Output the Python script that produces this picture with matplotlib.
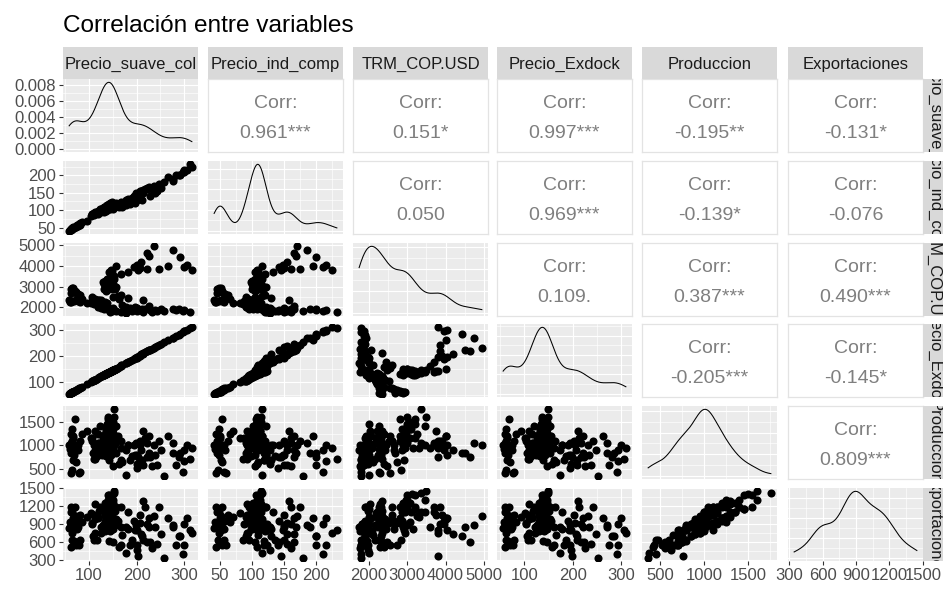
import numpy as np
import matplotlib
matplotlib.use('Agg')
import matplotlib.pyplot as plt

plt.rcParams['font.family'] = ['Liberation Sans', 'DejaVu Sans']

# Variables (bimonthly readings, 2000-2023)
variables = ['Precio_suave_col', 'Precio_ind_comp', 'TRM_COP.USD',
             'Precio_Exdock', 'Produccion', 'Exportaciones']

precio_suave_col = [
    135, 125, 118, 110, 104, 96,
    80, 76, 72, 68, 64, 62,
    62, 60, 58, 62, 66, 64,
    66, 64, 62, 64, 66, 70,
    72, 76, 74, 78, 80, 84,
    112, 124, 120, 108, 106, 112,
    116, 110, 106, 112, 118, 122,
    128, 130, 132, 134, 136, 138,
    142, 148, 144, 146, 138, 134,
    150, 162, 170, 178, 185, 196,
    200, 212, 228, 242, 238, 252,
    282, 300, 312, 298, 288, 276,
    258, 232, 214, 200, 190, 178,
    166, 156, 150, 144, 138, 132,
    150, 198, 218, 208, 226, 214,
    182, 168, 160, 154, 150, 146,
    144, 146, 150, 154, 156, 150,
    152, 148, 146, 144, 142, 140,
    138, 136, 134, 132, 136, 140,
    132, 130, 134, 138, 144, 152,
    148, 156, 146, 142, 148, 152,
    166, 182, 202, 222, 246, 266,
    300, 316, 306, 292, 236, 276,
    222, 226, 210, 200, 194, 206,
]

precio_ind_comp = [
    98, 94, 90, 86, 82, 70,
    56, 54, 52, 48, 45, 44,
    44, 42, 41, 46, 50, 48,
    52, 48, 46, 47, 50, 53,
    54, 58, 56, 60, 62, 66,
    92, 102, 98, 90, 88, 92,
    96, 92, 90, 94, 98, 102,
    104, 106, 108, 110, 112, 114,
    118, 124, 120, 122, 114, 110,
    104, 108, 110, 115, 118, 122,
    128, 130, 142, 155, 150, 165,
    200, 215, 232, 210, 200, 190,
    180, 160, 150, 140, 135, 128,
    124, 118, 114, 108, 102, 96,
    110, 150, 160, 155, 165, 158,
    130, 120, 115, 110, 108, 106,
    104, 108, 112, 118, 122, 114,
    118, 114, 113, 112, 110, 108,
    106, 104, 102, 100, 102, 106,
    100, 98, 100, 104, 110, 116,
    110, 116, 108, 104, 110, 114,
    120, 132, 145, 160, 175, 195,
    210, 225, 215, 200, 170, 185,
    165, 168, 155, 148, 142, 150,
]

trm_cop_usd = [
    1960, 1980, 2000, 2160, 2190, 2220,
    2260, 2310, 2330, 2300, 2320, 2300,
    2280, 2270, 2350, 2680, 2800, 2860,
    2920, 2950, 2880, 2840, 2860, 2800,
    2720, 2660, 2640, 2560, 2600, 2400,
    2350, 2340, 2330, 2320, 2300, 2280,
    2260, 2300, 2520, 2420, 2360, 2250,
    2230, 2150, 1960, 2080, 2020, 2000,
    1940, 1810, 1760, 1900, 2200, 2260,
    2480, 2400, 2100, 2000, 1960, 2000,
    1960, 1900, 1860, 1810, 1850, 1900,
    1870, 1860, 1780, 1800, 1900, 1930,
    1800, 1770, 1790, 1800, 1810, 1740,
    1780, 1820, 1900, 1900, 1920, 1930,
    1990, 1970, 1900, 1870, 2050, 2350,
    2450, 2600, 2560, 2900, 3060, 3200,
    3300, 3060, 2960, 3000, 2980, 3120,
    2940, 2900, 2950, 2960, 3000, 3000,
    2850, 2800, 2900, 2900, 3100, 3200,
    3150, 3200, 3260, 3350, 3450, 3350,
    3450, 4000, 3800, 3700, 3760, 3500,
    3600, 3700, 3800, 3850, 3860, 4000,
    3950, 3800, 4050, 4420, 4950, 4750,
    4650, 4500, 4200, 4050, 3950, 3900,
]

precio_exdock = [
    132, 122, 115, 107, 101, 93,
    78, 74, 70, 66, 62, 60,
    60, 58, 56, 60, 64, 62,
    64, 62, 60, 62, 64, 68,
    70, 74, 72, 76, 78, 82,
    110, 122, 118, 106, 104, 110,
    114, 108, 104, 110, 116, 120,
    124, 126, 128, 130, 132, 134,
    138, 144, 140, 142, 134, 130,
    146, 158, 166, 174, 182, 192,
    196, 208, 224, 238, 234, 248,
    276, 294, 306, 292, 282, 270,
    252, 226, 208, 194, 186, 174,
    162, 152, 146, 140, 134, 128,
    146, 194, 214, 204, 222, 210,
    178, 164, 156, 150, 146, 142,
    140, 142, 146, 150, 152, 146,
    148, 144, 142, 140, 138, 136,
    134, 132, 130, 128, 132, 136,
    128, 126, 130, 134, 140, 148,
    144, 152, 142, 138, 144, 148,
    162, 178, 198, 218, 242, 262,
    294, 310, 300, 286, 232, 270,
    218, 222, 206, 196, 190, 202,
]

produccion = [
    780, 900, 1050, 720, 1150, 1300,
    450, 1000, 950, 800, 1100, 1250,
    420, 920, 1000, 850, 1200, 1350,
    700, 950, 1050, 480, 1150, 1550,
    650, 900, 1000, 430, 1100, 1250,
    720, 980, 1050, 850, 1150, 1300,
    780, 1000, 1100, 900, 1250, 1400,
    800, 1050, 1150, 950, 1300, 1450,
    700, 950, 1000, 800, 1050, 1150,
    560, 620, 650, 380, 700, 800,
    620, 700, 750, 600, 800, 900,
    600, 680, 720, 450, 750, 850,
    365, 560, 600, 520, 780, 900,
    700, 850, 950, 900, 1100, 1200,
    900, 1050, 1150, 1000, 1200, 1300,
    1000, 1100, 1200, 1050, 1350, 1450,
    950, 1150, 1250, 1050, 1400, 1500,
    1000, 1200, 1300, 1100, 1450, 1600,
    900, 1100, 1200, 1000, 1350, 1550,
    950, 1150, 1250, 1050, 1400, 1760,
    1000, 1200, 1100, 1050, 1300, 1600,
    950, 1000, 760, 1050, 1100, 1200,
    900, 950, 1000, 850, 1000, 1050,
    750, 850, 900, 800, 1000, 1100,
]

exportaciones = [
    820, 760, 1020, 640, 1080, 1020,
    640, 860, 1040, 620, 900, 1180,
    520, 940, 840, 900, 1000, 1100,
    800, 760, 1100, 640, 960, 1180,
    560, 960, 820, 560, 1060, 940,
    760, 860, 1120, 700, 900, 1240,
    640, 1060, 920, 980, 1000, 1180,
    860, 880, 1120, 780, 1240, 1160,
    620, 900, 780, 880, 1100, 960,
    600, 520, 720, 420, 560, 800,
    480, 700, 600, 580, 860, 740,
    560, 560, 800, 400, 700, 860,
    345, 500, 640, 560, 640, 860,
    560, 900, 820, 960, 900, 1180,
    900, 880, 1180, 920, 1000, 1280,
    820, 1180, 960, 1120, 1260, 1160,
    1020, 940, 1300, 880, 1180, 1400,
    880, 1240, 1100, 1140, 1380, 1300,
    960, 920, 1260, 860, 1100, 1380,
    820, 1180, 1040, 1100, 1300, 1420,
    1100, 980, 800, 1180, 1060, 1446,
    860, 1100, 380, 900, 1180, 1000,
    900, 760, 1000, 700, 1040, 880,
    600, 860, 740, 800, 960, 1060,
]

# Correlation labels shown in the upper triangle (row, col)
corr_labels = {
    (0, 1): '0.961***', (0, 2): '0.151*', (0, 3): '0.997***',
    (0, 4): '-0.195**', (0, 5): '-0.131*',
    (1, 2): '0.050', (1, 3): '0.969***', (1, 4): '-0.139*', (1, 5): '-0.076',
    (2, 3): '0.109.', (2, 4): '0.387***', (2, 5): '0.490***',
    (3, 4): '-0.205***', (3, 5): '-0.145*',
    (4, 5): '0.809***',
}

axis_ticks = [
    [100, 200, 300],
    [50, 100, 150, 200],
    [2000, 3000, 4000, 5000],
    [100, 200, 300],
    [500, 1000, 1500],
    [300, 600, 900, 1200, 1500],
]
density_ticks = [0.000, 0.002, 0.004, 0.006, 0.008]

data = [np.array(v, dtype=float) for v in
        [precio_suave_col, precio_ind_comp, trm_cop_usd,
         precio_exdock, produccion, exportaciones]]


def kde_nrd0(x, grid):
    # gaussian density with R's default bandwidth (bw.nrd0)
    n = len(x)
    sd = np.std(x, ddof=1)
    iqr = np.subtract(*np.percentile(x, [75, 25]))
    bw = 0.9 * min(sd, iqr / 1.34) * n ** (-0.2)
    z = (grid[:, None] - x[None, :]) / bw
    return np.exp(-0.5 * z ** 2).sum(axis=1) / (n * bw * np.sqrt(2 * np.pi))


def expanded(lo, hi, frac=0.05):
    r = hi - lo
    return lo - frac * r, hi + frac * r


def minor_from(major):
    step = major[1] - major[0]
    return [major[0] - step / 2] + [m + step / 2 for m in major]


def nice_ticks(top):
    raw = top / 4
    mag = 10 ** np.floor(np.log10(raw))
    for s in [1, 2, 2.5, 5, 10]:
        if s * mag >= raw:
            step = s * mag
            break
    return list(np.arange(0, top + step * 0.01, step))


# Figure geometry in pixels
W, H = 943, 589
col_x = [63, 208, 353, 497, 642, 788]
row_y = [79, 161, 243, 324, 406, 488]
pw, ph = 135, 73

BG = '#EBEBEB'
TICK_COLOR = '#4D4D4D'

fig = plt.figure(figsize=(W / 100, H / 100), dpi=100)
fig.patch.set_facecolor('white')

lims = [expanded(d.min(), d.max()) for d in data]
nvar = len(variables)

for i in range(nvar):
    for j in range(nvar):
        ax = fig.add_axes([col_x[j] / W, 1 - (row_y[i] + ph) / H, pw / W, ph / H])
        for sp in ax.spines.values():
            sp.set_visible(False)

        if j > i:
            # correlation panel
            ax.set_facecolor('white')
            for sp in ax.spines.values():
                sp.set_visible(True)
                sp.set_color('#E3E3E3')
                sp.set_linewidth(0.9)
            ax.set_xticks([])
            ax.set_yticks([])
            ax.text(0.5, 0.665, 'Corr:', transform=ax.transAxes, ha='center',
                    va='center', fontsize=14, color='#7F7F7F')
            ax.text(0.5, 0.25, corr_labels[(i, j)], transform=ax.transAxes,
                    ha='center', va='center', fontsize=14, color='#7F7F7F')
            continue

        ax.set_facecolor(BG)
        ax.set_axisbelow(True)
        ax.set_xticks(axis_ticks[j])
        ax.set_xticks(minor_from(axis_ticks[j]), minor=True)
        ax.set_xlim(lims[j])

        if i == j:
            x = data[j]
            grid = np.linspace(x.min(), x.max(), 512)
            dens = kde_nrd0(x, grid)
            ax.plot(grid, dens, color='black', lw=0.75)
            top = dens.max()
            yt = density_ticks if i == 0 else nice_ticks(top)
            ax.set_yticks(yt)
            ax.set_yticks(minor_from(yt), minor=True)
            ax.set_ylim(-0.05 * top, 1.05 * top)
        else:
            ax.scatter(data[j], data[i], s=34, c='black', linewidths=0, zorder=3)
            ax.set_yticks(axis_ticks[i])
            ax.set_yticks(minor_from(axis_ticks[i]), minor=True)
            ax.set_ylim(lims[i])

        ax.grid(which='major', color='white', lw=0.85)
        ax.grid(which='minor', color='white', lw=0.45)
        ax.tick_params(which='both', length=0, labelbottom=False, labelleft=False)
        ax.tick_params(which='major', labelsize=12, labelcolor=TICK_COLOR,
                       color='#333333', width=0.8)

        if j == 0:
            ax.tick_params(axis='y', which='major', length=3.2, labelleft=True, pad=2)
            if i == 0:
                ax.set_yticklabels(['%.3f' % t for t in density_ticks])
        if i == nvar - 1:
            ax.tick_params(axis='x', which='major', length=3.2, labelbottom=True, pad=2)

# Strips on top
for j, name in enumerate(variables):
    sax = fig.add_axes([col_x[j] / W, 1 - 79 / H, pw / W, 32 / H])
    sax.set_facecolor('#D9D9D9')
    sax.set_xticks([])
    sax.set_yticks([])
    for sp in sax.spines.values():
        sp.set_visible(False)
    sax.text(0.5, 0.45, name, transform=sax.transAxes, ha='center', va='center',
             fontsize=12, color='#1A1A1A', clip_on=True)

# Strips on the right (partially cut by the figure edge)
for i, name in enumerate(variables):
    sax = fig.add_axes([923 / W, 1 - (row_y[i] + ph) / H, 24 / W, ph / H])
    sax.set_facecolor('#D9D9D9')
    sax.set_xticks([])
    sax.set_yticks([])
    for sp in sax.spines.values():
        sp.set_visible(False)
    sax.text(0.48, 0.5, name, transform=sax.transAxes, ha='center', va='center',
             rotation=270, fontsize=12, color='#1A1A1A', clip_on=True)

fig.text(63 / W, 1 - 32 / H, 'Correlación entre variables', fontsize=17.6,
         color='black', va='baseline', ha='left')

fig.savefig('out.png', dpi=100)
